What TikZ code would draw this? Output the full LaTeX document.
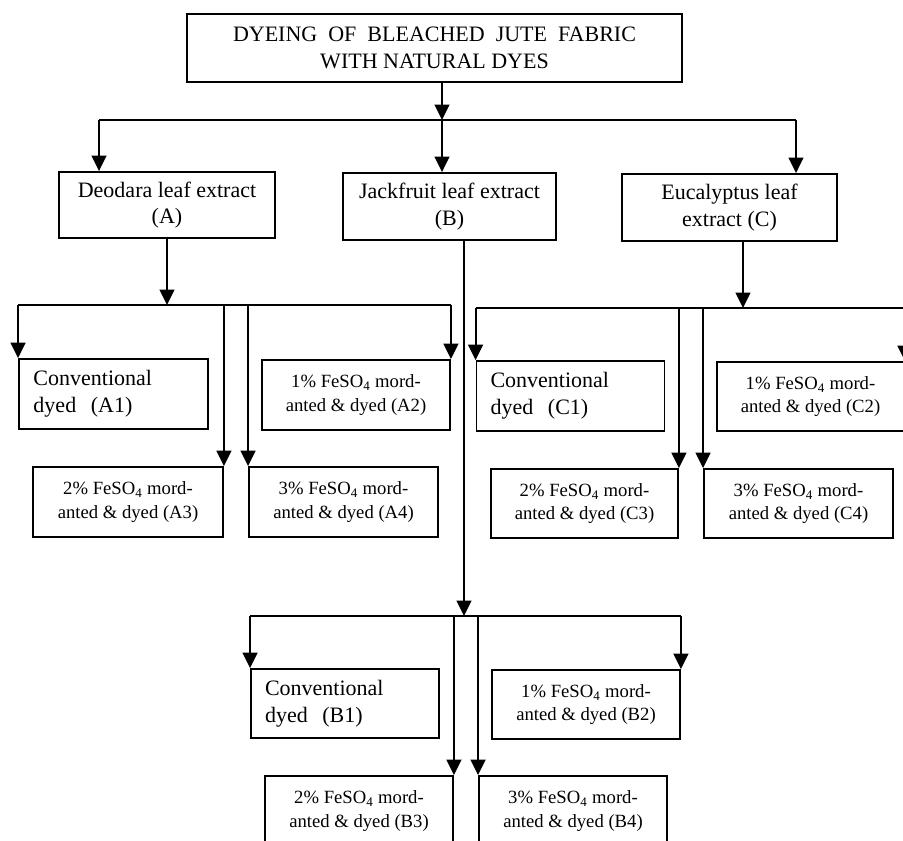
\documentclass[tikz,border=0pt]{standalone}
\usepackage{fontspec}
\setmainfont{Liberation Serif}
\usetikzlibrary{arrows.meta}
\begin{document}
\begin{tikzpicture}[x=0.75pt,y=-0.75pt,
  line width=1.4pt,
  bx/.style 2 args={draw, line width=1.4pt, minimum width=#1*0.75pt, minimum height=#2*0.75pt, inner sep=0pt, align=center},
  cv/.style 2 args={draw, line width=1.4pt, minimum width=#1*0.75pt, minimum height=#2*0.75pt, inner ysep=0pt, inner xsep=10.5pt, text width=120pt, align=left, font=\fontsize{16.5}{20}\selectfont},
  big/.style={font=\fontsize{16.5}{20}\selectfont},
  small/.style={font=\fontsize{14}{17.5}\selectfont},
  arr/.style={-{Triangle[width=11pt,length=11.5pt]}}]
\useasboundingbox (0,0) rectangle (903,840);
\begin{scope}
\clip (0,0) rectangle (903,840);
% boxes
\node[bx={495}{68}, big] (T) at (434.5,48) {{\spaceskip=0.5em DYEING OF BLEACHED JUTE FABRIC}\\WITH NATURAL DYES};
\node[bx={216}{66}, big] (A) at (167,205) {Deodara leaf extract\\(A)};
\node[bx={213}{67}, big] (B) at (449.5,206.5) {Jackfruit leaf extract\\(B)};
\node[bx={215}{67}, big] (C) at (729.5,207.5) {Eucalyptus leaf\\extract (C)};

\node[cv={189}{70}] (A1) at (113.5,394) {Conventional\\dyed~ (A1)};
\node[bx={188}{70}, small] (A2) at (356,395) {1\% FeSO\textsubscript{4} mord-\\anted \& dyed (A2)};
\node[bx={190}{70}, small] (A3) at (128,502) {2\% FeSO\textsubscript{4} mord-\\anted \& dyed (A3)};
\node[bx={189}{70}, small] (A4) at (343.5,502) {3\% FeSO\textsubscript{4} mord-\\anted \& dyed (A4)};

\node[cv={187}{70}] (C1) at (570.5,396) {Conventional\\dyed~ (C1)};
\node[bx={187}{69}, small] (C2) at (810.5,396.5) {1\% FeSO\textsubscript{4} mord-\\anted \& dyed (C2)};
\node[bx={187}{69}, small] (C3) at (584.5,503.5) {2\% FeSO\textsubscript{4} mord-\\anted \& dyed (C3)};
\node[bx={189}{69}, small] (C4) at (798.5,503.5) {3\% FeSO\textsubscript{4} mord-\\anted \& dyed (C4)};

\node[cv={188}{69}] (B1) at (345,703.5) {Conventional\\dyed~ (B1)};
\node[bx={188}{69}, small] (B2) at (586,704.5) {1\% FeSO\textsubscript{4} mord-\\anted \& dyed (B2)};
\node[bx={188}{70}, small] (B3) at (359,811) {2\% FeSO\textsubscript{4} mord-\\anted \& dyed (B3)};
\node[bx={188}{70}, small] (B4) at (573,811) {3\% FeSO\textsubscript{4} mord-\\anted \& dyed (B4)};

% top level connectors
\coordinate (j0) at (442,120);
\coordinate (hL) at (99,120);
\coordinate (hR) at (796,120);
\draw[arr] (T.south -| j0) -- (j0);
\draw (hL) -- (hR);
\draw[arr] (hL) -- (hL |- A.north);
\draw[arr] (j0) -- (j0 |- B.north);
\draw[arr] (hR) -- (hR |- C.north);

% A level
\coordinate (jA) at (167,305);
\draw[arr] (A.south) -- (jA);
\draw (A1.north west |- jA) -- (A2.north east |- jA);
\draw[arr] (A1.north west |- jA) -- (A1.north west);
\draw[arr] (A2.north east |- jA) -- (A2.north east);
\draw[arr] (A3.north east |- jA) -- (A3.north east);
\draw[arr] (A4.north west |- jA) -- (A4.north west);

% C level
\coordinate (jC) at (743,308);
\draw[arr] (C.south -| jC) -- (jC);
\draw (C1.north west |- jC) -- (C2.north east |- jC);
\draw[arr] (C1.north west |- jC) -- (C1.north west);
\draw[arr] (C2.north east |- jC) -- (C2.north east);
\draw[arr] (C3.north east |- jC) -- (C3.north east);
\draw[arr] (C4.north west |- jC) -- (C4.north west);

% B level
\coordinate (jB) at (464,616);
\draw[arr] (B.south -| jB) -- (jB);
\draw (B1.north west |- jB) -- (B2.north east |- jB);
\draw[arr] (B1.north west |- jB) -- (B1.north west);
\draw[arr] (B2.north east |- jB) -- (B2.north east);
\draw[arr] (B3.north east |- jB) -- (B3.north east);
\draw[arr] (B4.north west |- jB) -- (B4.north west);
\end{scope}
\end{tikzpicture}
\end{document}
